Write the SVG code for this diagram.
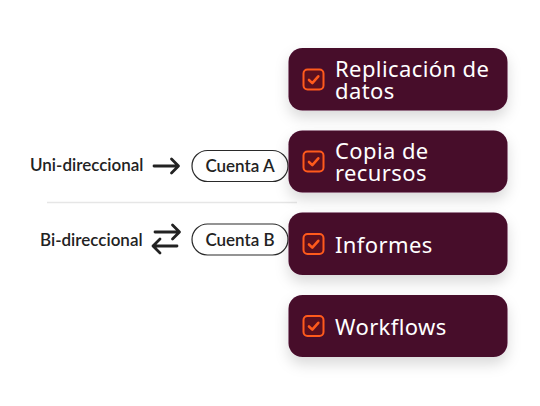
<svg xmlns="http://www.w3.org/2000/svg" width="540" height="406" viewBox="0 0 540 406">
<defs>
<filter id="sh" x="-20%" y="-30%" width="140%" height="180%">
<feDropShadow dx="0" dy="7" stdDeviation="7" flood-color="#000" flood-opacity="0.15"/>
</filter>
<g id="chk">
<rect x="0" y="0" width="20" height="20" rx="4" fill="#5a0f1f" stroke="#ff5a1c" stroke-width="2"/>
<path d="M5.5 10.5 L8.8 13.6 L14.8 6.8" fill="none" stroke="#ff5a1c" stroke-width="2.6" stroke-linecap="round" stroke-linejoin="round"/>
</g>
</defs>
<style>
.card{fill:#47092b;filter:url(#sh)}
.ct{font-family:"Noto Sans","Lato",sans-serif;font-size:22px;letter-spacing:0.4px;fill:#fff}
.lt{font-family:"Lato","Noto Sans",sans-serif;font-size:17px;fill:#222;font-weight:600}
.pill{fill:#fff;stroke:#2a2a2a;stroke-width:1.2}
.pt{font-family:"Lato","Noto Sans",sans-serif;font-size:17px;fill:#222;font-weight:600;text-anchor:middle}
.ar{fill:none;stroke:#222;stroke-width:2.8;stroke-linecap:round;stroke-linejoin:round}
</style>
<rect width="540" height="406" fill="#fff"/>
<line x1="47" y1="202.5" x2="297" y2="202.5" stroke="#e6e6e6" stroke-width="1.5"/>
<g id="uni">
<text class="lt" x="30" y="171">Uni-direccional</text>
</g>
<g id="bi">
<text class="lt" x="40" y="246">Bi-direccional</text>
</g>
<g id="connectors">
<path class="ar" d="M154 166 H178 M171.5 159 L178.5 166 L171.5 173"/>
<path class="ar" d="M155 232 H179 M172.5 225 L179.5 232 L172.5 239"/>
<path class="ar" d="M177 246 H153 M160 239 L153 246 L160 253"/>
</g>
<g id="cuentaA">
<rect class="pill" x="192" y="150.5" width="96" height="31" rx="15.5"/>
<text class="pt" x="240" y="172">Cuenta A</text>
</g>
<g id="cuentaB">
<rect class="pill" x="192" y="224" width="96" height="31" rx="15.5"/>
<text class="pt" x="240" y="245.5">Cuenta B</text>
</g>
<g id="card1">
<rect class="card" x="288.5" y="48" width="219" height="62.5" rx="14"/>
<use href="#chk" x="303.5" y="69.5"/>
<text class="ct" x="335" y="77">Replicación de<tspan x="335" y="99">datos</tspan></text>
</g>
<g id="card2">
<rect class="card" x="288.5" y="130.5" width="219" height="62" rx="14"/>
<use href="#chk" x="303.5" y="151.5"/>
<text class="ct" x="335" y="159">Copia de<tspan x="335" y="181">recursos</tspan></text>
</g>
<g id="card3">
<rect class="card" x="288.5" y="212.5" width="219" height="62.5" rx="14"/>
<use href="#chk" x="303.5" y="234"/>
<text class="ct" x="335" y="252.5">Informes</text>
</g>
<g id="card4">
<rect class="card" x="288.5" y="295" width="219" height="62" rx="14"/>
<use href="#chk" x="303.5" y="316"/>
<text class="ct" x="335" y="335">Workflows</text>
</g>
</svg>
